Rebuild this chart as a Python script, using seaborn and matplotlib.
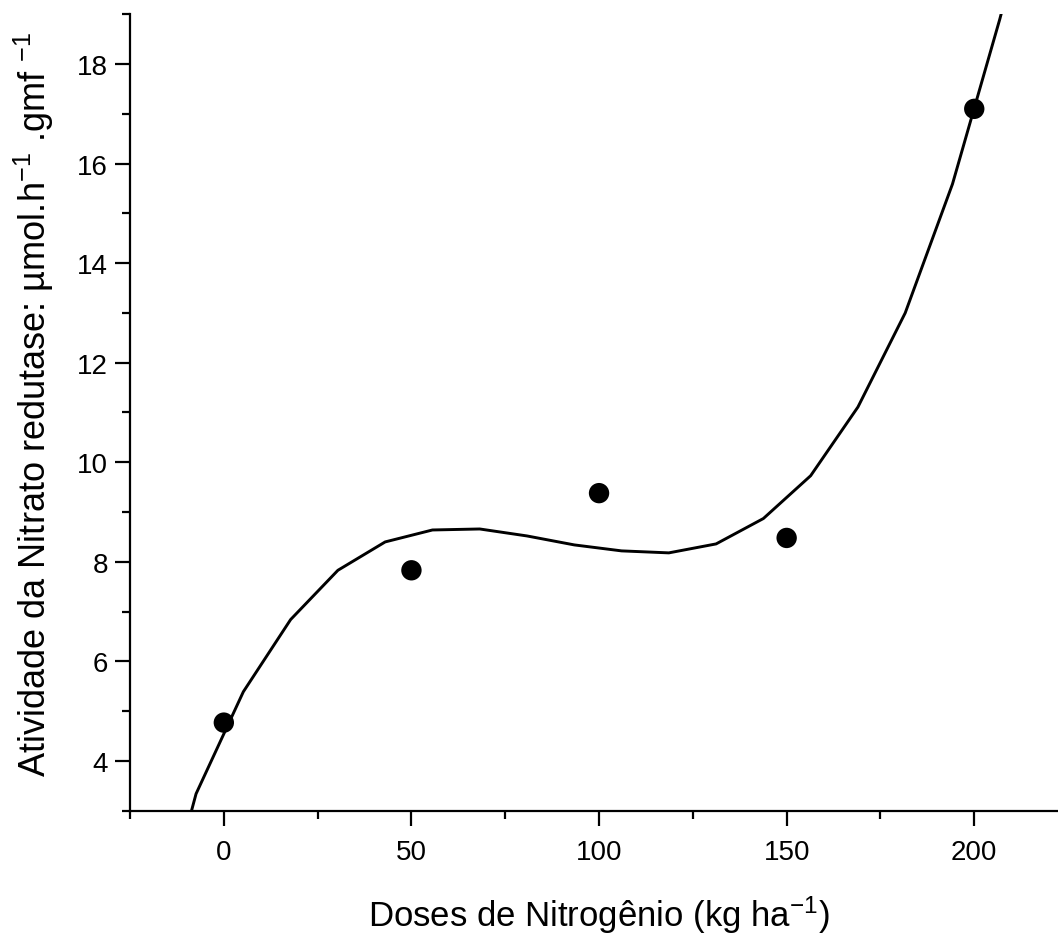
import matplotlib
matplotlib.use("Agg")
import matplotlib.pyplot as plt
import numpy as np
import pandas as pd
import seaborn as sns
from matplotlib.ticker import MultipleLocator, FixedLocator

# ---- data ----
dose = [0, 50, 100, 150, 200]
activity = [4.77, 7.83, 9.38, 8.48, 17.10]

fit_dose = [-20.0, -7.4, 5.2, 17.8, 30.4, 43.0, 55.6, 68.2, 80.8, 93.4,
            106.0, 118.6, 131.2, 143.8, 156.4, 169.0, 181.6, 194.2, 206.8, 219.4]
fit_activity = [-0.2, 3.34, 5.39, 6.84, 7.83, 8.40, 8.64, 8.66, 8.52, 8.34,
                8.22, 8.18, 8.36, 8.87, 9.73, 11.11, 13.0, 15.59, 18.9, 22.5]

x_ticks = [0, 50, 100, 150, 200]
y_ticks = [4, 6, 8, 10, 12, 14, 16, 18]

x_label = "Doses de Nitrogênio (kg ha$^{-1}$)"
y_label = "Atividade da Nitrato redutase: µmol.h$^{-1}$ .gmf $^{-1}$"

# ---- style ----
sns.set_style("ticks")
plt.rcParams["font.family"] = ["Liberation Sans", "DejaVu Sans"]
plt.rcParams["mathtext.fontset"] = "custom"
plt.rcParams["mathtext.rm"] = "Liberation Sans"
plt.rcParams["mathtext.it"] = "Liberation Sans:italic"
plt.rcParams["mathtext.default"] = "regular"
plt.rcParams["text.color"] = "black"
plt.rcParams["axes.labelcolor"] = "black"

fig = plt.figure(figsize=(10.58, 9.37), dpi=100)
ax = fig.add_axes([0.1229, 0.1337, 0.8866, 0.85])

pts = pd.DataFrame({"dose": dose, "activity": activity})
fit = pd.DataFrame({"dose": fit_dose, "activity": fit_activity})

sns.lineplot(data=fit, x="dose", y="activity", sort=False, color="black",
             linewidth=2.1, ax=ax, estimator=None)
sns.scatterplot(data=pts, x="dose", y="activity", color="black", s=215,
                edgecolor="none", ax=ax, zorder=3)

ax.set_xlim(-25, 225)
ax.set_ylim(3, 19)
ax.xaxis.set_major_locator(FixedLocator(x_ticks))
ax.yaxis.set_major_locator(FixedLocator(y_ticks))
ax.xaxis.set_minor_locator(MultipleLocator(25))
ax.yaxis.set_minor_locator(MultipleLocator(1))

for s in ["top", "right"]:
    ax.spines[s].set_visible(False)
for s in ["left", "bottom"]:
    ax.spines[s].set_linewidth(1.6)
    ax.spines[s].set_color("black")

ax.tick_params(which="major", direction="out", length=11, width=1.6,
               labelsize=20, color="black", labelcolor="black")
ax.tick_params(which="minor", direction="out", length=6, width=1.6, color="black")
ax.tick_params(axis="x", which="major", pad=9)
ax.tick_params(axis="y", which="major", pad=5)

ax.set_xlabel(x_label, fontsize=25, labelpad=21)
ax.set_ylabel(y_label, fontsize=26)
ax.yaxis.set_label_coords(-0.079, 0.512)

fig.savefig("out.png", dpi=100)
